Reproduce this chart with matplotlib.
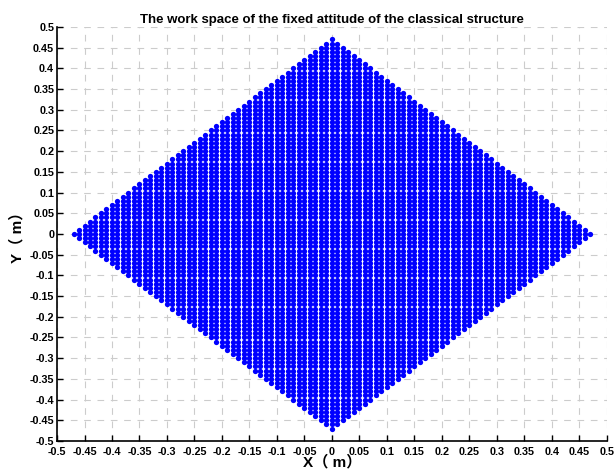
import matplotlib
matplotlib.use('Agg')
import matplotlib.pyplot as plt
import numpy as np

plt.rcParams['font.family'] = ['Liberation Sans', 'Noto Sans CJK SC', 'DejaVu Sans']

# sampled end-effector positions (m) with the platform attitude held fixed
step = 0.01
reach = 0.47
grid_x = np.round(np.arange(-reach, reach + step / 2, step), 4)
grid_y = np.round(np.arange(-reach, reach + step / 2, step), 4)

xx, yy = np.meshgrid(grid_x, grid_y)
feasible = np.abs(xx) + np.abs(yy) <= reach + 1e-9
px = xx[feasible]
py = yy[feasible]

ticks = np.round(np.arange(-0.5, 0.5001, 0.05), 2) + 0.0
tick_labels = ['%g' % t if abs(t) > 1e-9 else '0' for t in ticks]

fig = plt.figure(figsize=(6.15, 4.71), dpi=100)
ax = fig.add_axes([0.0927, 0.0637, 0.894, 0.879])

ax.plot(px, py, 'o', color='#0000ff', markersize=3.8, markeredgewidth=0, zorder=3)

ax.set_xlim(-0.5, 0.5)
ax.set_ylim(-0.5, 0.5)
ax.set_xticks(ticks)
ax.set_yticks(ticks)
ax.set_xticklabels(tick_labels, fontsize=7.8, fontweight='bold')
ax.set_yticklabels(tick_labels, fontsize=7.8, fontweight='bold')
ax.tick_params(direction='in', length=4, width=1)
ax.tick_params(axis='x', pad=4)
ax.tick_params(axis='y', pad=2)

ax.grid(True, linestyle=(0, (6, 6)), color='#cccccc', linewidth=0.8, zorder=0)
ax.set_axisbelow(True)

ax.spines['top'].set_visible(False)
ax.spines['right'].set_visible(False)
ax.spines['left'].set_linewidth(1.2)
ax.spines['bottom'].set_linewidth(1.2)

ax.set_title('The work space of the fixed attitude of the classical structure',
             fontsize=9.5, fontweight='bold', pad=3)
ax.set_xlabel('X（ m）', fontsize=11, fontweight='bold', labelpad=-1)
ax.set_ylabel('Y（ m）', fontsize=11, fontweight='bold', labelpad=4)

fig.savefig('out.png', dpi=100)
